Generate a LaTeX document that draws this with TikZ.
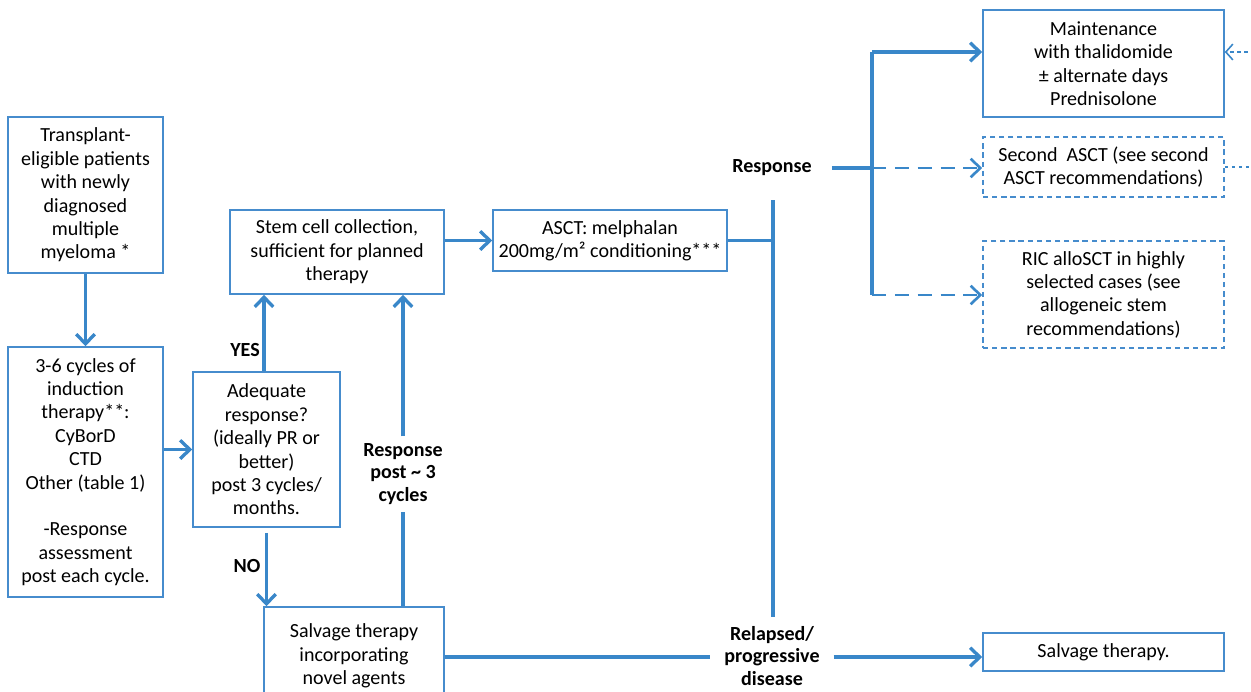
\documentclass[tikz,border=0pt]{standalone}
\usepackage{fontspec}
\setmainfont{Carlito}
\usetikzlibrary{arrows.meta}
\definecolor{fblue}{RGB}{57,135,201}
\definecolor{bblue}{RGB}{70,140,205}
\tikzset{
  box/.style={draw=bblue, line width=0.9pt, align=center, inner sep=2pt,
    font=\fontsize{11.4}{13.3}\selectfont},
  dbox/.style={box, dash pattern=on 3pt off 2.2pt},
  lbl/.style={align=center, inner sep=1pt, font=\bfseries\fontsize{11.4}{12.6}\selectfont},
  conn/.style={draw=fblue, line width=1.9pt},
  arr/.style={conn, -{Straight Barb[length=5.5pt,width=10.5pt]}},
  darr/.style={arr, line width=1.5pt, dash pattern=on 8pt off 5pt},
}
\begin{document}
\begin{tikzpicture}[x=0.02cm,y=-0.02cm]
\useasboundingbox (0,0) rectangle (1251,691);
% boxes
\node[box, minimum width=3.1cm, minimum height=3.12cm] (b1) at (85.5,195)
  {Transplant-\\eligible patients\\with newly\\diagnosed\\multiple\\myeloma *};
\node[box, minimum width=3.1cm, minimum height=5.0cm] (b2) at (85.5,472)
  {3-6 cycles of\\induction\\therapy**:\\CyBorD\\CTD\\Other (table 1)\\[13.3pt]-Response\\assessment\\post each cycle.};
\node[box, minimum width=2.94cm, minimum height=3.1cm] (adq) at (266.5,449.5)
  {Adequate\\response?\\(ideally PR or\\better)\\post 3 cycles/\\months.};
\node[box, minimum width=4.28cm, minimum height=1.68cm] (stem) at (337,252)
  {Stem cell collection,\\sufficient for planned\\therapy};
\node[box, minimum width=3.6cm, minimum height=1.96cm] (novel) at (354,656)
  {Salvage therapy\\incorporating\\novel agents};
\node[box, minimum width=4.68cm, minimum height=1.22cm] (asct) at (610,240.5)
  {ASCT: melphalan\\200mg/m² conditioning***};
\node[box, minimum width=4.82cm, minimum height=2.14cm] (maint) at (1103.5,63.5)
  {Maintenance\\with thalidomide\\± alternate days\\Prednisolone};
\node[dbox, minimum width=4.82cm, minimum height=1.2cm] (second) at (1103.5,167)
  {Second\ \ ASCT (see second\\ASCT recommendations)};
\node[dbox, minimum width=4.82cm, minimum height=2.14cm] (ric) at (1103.5,294.5)
  {RIC alloSCT in highly\\selected cases (see\\allogeneic stem\\recommendations)};
\node[box, minimum width=4.82cm, minimum height=0.76cm] (salv) at (1103.5,652)
  {Salvage therapy.};
% labels
\node[lbl] (yes) at (245,350) {YES};
\node[lbl] (no) at (247,566) {NO};
\node[lbl] (resp3) at (403,474) {Response\\post \char`~\ 3\\cycles};
\node[lbl] (resp) at (772,168) {Response};
\node[lbl] (rel) at (772,656) {Relapsed/\\progressive\\disease};
% coordinates
\coordinate (vtop) at (773,200);
\coordinate (vbot) at (773,617);
\coordinate (br) at (872,168);
\coordinate (btop) at (872,52);
\coordinate (bbot) at (872,295);
\coordinate (dr) at (1256,167);
\coordinate (dt) at (1256,52);
% connectors
\draw[arr] (b1) -- (b2);
\draw[arr] (b2.east |- adq) -- (adq);
\draw[arr] ([xshift=-2.5*0.02cm]adq.north) -- ([xshift=-2.5*0.02cm]adq.north |- stem.south);
\draw[arr] ([yshift=-5*0.02cm]adq.south) -- (adq.south |- novel.north);
\draw[conn] (novel.north -| resp3) -- ([yshift=-3pt]resp3.south);
\draw[arr] ([yshift=3pt]resp3.north) -- (stem.south -| resp3);
\draw[arr] (stem.east |- asct) -- (asct);
\draw[conn] (vtop) -- (vbot);
\draw[conn] (asct.east) -- (asct.east -| vtop);
\draw[conn] ([xshift=18*0.02cm]resp.east |- br) -- (br);
\draw[conn] (btop) -- (bbot);
\draw[arr] (btop) -- (btop -| maint.west);
\draw[darr] (br) -- (br -| second.west);
\draw[darr] (bbot) -- (bbot -| ric.west);
\draw[conn] (novel.east |- 0,657) -- ([xshift=-12*0.02cm]rel.west |- 0,657);
\draw[arr] ([xshift=12*0.02cm]rel.east |- 0,657) -- (salv.west |- 0,657);
\draw[draw=fblue, line width=0.9pt, dash pattern=on 2pt off 2pt, -{Straight Barb[length=4pt,width=9pt]}]
  (second.east) -- (dr) -- (dt) -- (dt -| maint.east);
\end{tikzpicture}
\end{document}
